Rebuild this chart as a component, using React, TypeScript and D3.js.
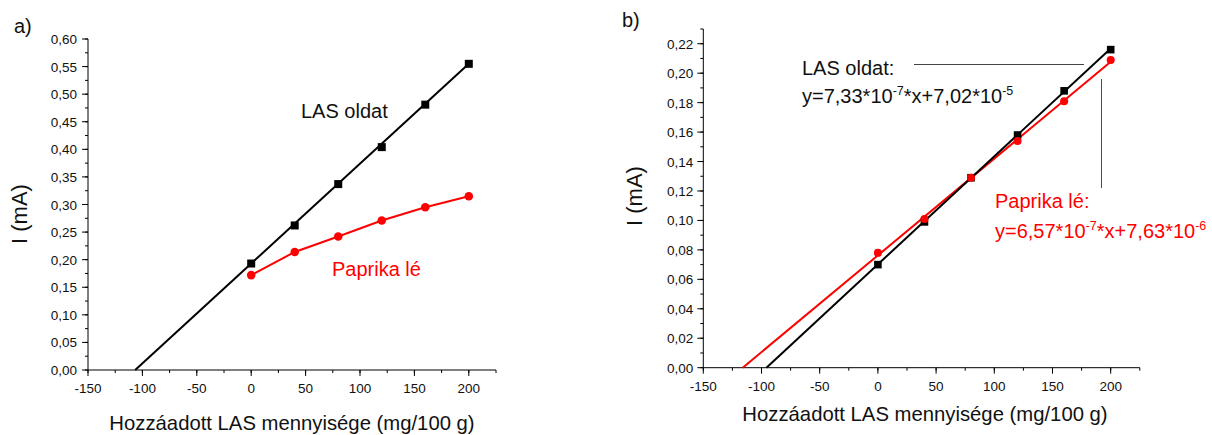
import React from "react";
import * as d3 from "d3";

// ---- Data ----
const xs = [0, 40, 80, 120, 160, 200];
const aLAS = [0.193, 0.262, 0.337, 0.404, 0.481, 0.555];
const aPaprika = [0.172, 0.214, 0.242, 0.271, 0.295, 0.315];
const aFitLAS = { slope: 0.00181, intercept: 0.193 };

const bLAS = [0.07, 0.099, 0.129, 0.158, 0.188, 0.216];
const bPaprika = [0.078, 0.101, 0.129, 0.154, 0.181, 0.209];
const bFitLAS = { slope: 0.000733, intercept: 0.0702 };
const bFitPaprika = { slope: 0.000657, intercept: 0.0763 };

const xTicks = [-150, -100, -50, 0, 50, 100, 150, 200];
const aYTicks = [0, 0.05, 0.1, 0.15, 0.2, 0.25, 0.3, 0.35, 0.4, 0.45, 0.5, 0.55, 0.6];
const bYTicks = [0, 0.02, 0.04, 0.06, 0.08, 0.1, 0.12, 0.14, 0.16, 0.18, 0.2, 0.22];

const xTitle = "Hozzáadott LAS mennyisége (mg/100 g)";
const yTitle = "I (mA)";
const FONT = "'Liberation Sans', Arial, sans-serif";

const fmtY = (v: number) => v.toFixed(2).replace(".", ",");

type Fit = { slope: number; intercept: number };

function Axes({ x, y, yTicks, yMinorStep, yMax, tickFont, labelGap }: any) {
  const x0 = x.range()[0];
  const x1 = x.range()[1];
  const y0 = y.range()[0];
  const y1 = y.range()[1];
  const xMinor = d3.range(-150, 226, 25);
  const yMinor = d3.range(0, yMax + 1e-9, yMinorStep);
  return (
    <g>
      <line x1={x0} x2={x0} y1={y0} y2={y1} stroke="#000" strokeWidth={1} />
      <line x1={x0} x2={x1} y1={y0} y2={y0} stroke="#000" strokeWidth={1} />
      {yMinor.map((v: number, i: number) => (
        <line key={"ym" + i} x1={x0 - 3} x2={x0} y1={y(v)} y2={y(v)} stroke="#000" />
      ))}
      {yTicks.map((v: number, i: number) => (
        <g key={"y" + i}>
          <line x1={x0 - 6} x2={x0} y1={y(v)} y2={y(v)} stroke="#000" />
          <text x={x0 - labelGap} y={y(v) + 5} textAnchor="end" fontSize={tickFont} fontFamily={FONT} fill="#111">
            {fmtY(v)}
          </text>
        </g>
      ))}
      {xMinor.map((v: number, i: number) => (
        <line key={"xm" + i} x1={x(v)} x2={x(v)} y1={y0} y2={y0 + 3} stroke="#000" />
      ))}
      {xTicks.map((v, i) => (
        <g key={"x" + i}>
          <line x1={x(v)} x2={x(v)} y1={y0} y2={y0 + 6} stroke="#000" />
          <text x={x(v)} y={y0 + 23} textAnchor="middle" fontSize={tickFont} fontFamily={FONT} fill="#111">
            {v}
          </text>
        </g>
      ))}
    </g>
  );
}

function fitPath(x: any, y: any, f: Fit) {
  const xStart = -f.intercept / f.slope;
  const line = d3.line<number>().x((d) => x(d)).y((d) => y(f.slope * d + f.intercept));
  return line([xStart, 200]) as string;
}

export default function App() {
  // Panel a
  const ax = d3.scaleLinear().domain([-150, 225]).range([88, 496]);
  const ay = d3.scaleLinear().domain([0, 0.6]).range([370, 39]);
  const aLine = d3
    .line<number>()
    .x((_, i) => ax(xs[i]))
    .y((d) => ay(d));

  // Panel b
  const bx = d3.scaleLinear().domain([-150, 225]).range([703.3, 1139.8]);
  const by = d3.scaleLinear().domain([0, 0.23]).range([367.7, 29]);

  return (
    <svg width={1212} height={435} style={{ position: "absolute", left: 0, top: 0, background: "#fff" }}>
      <rect width={1212} height={435} fill="#fff" />
      {/* ---------- Panel a ---------- */}
      <text x={14} y={33} fontSize={20} fontFamily={FONT} fill="#111">a)</text>
      <Axes x={ax} y={ay} yTicks={aYTicks} yMinorStep={0.025} yMax={0.6} tickFont={13.5} labelGap={11} />
      <text
        transform={`translate(27,214) rotate(-90)`}
        textAnchor="middle"
        fontSize={22}
        fontFamily={FONT}
        fill="#111"
      >
        {yTitle}
      </text>
      <text x={292} y={430} textAnchor="middle" fontSize={20.3} fontFamily={FONT} fill="#111">
        {xTitle}
      </text>
      <path d={fitPath(ax, ay, aFitLAS)} fill="none" stroke="#000" strokeWidth={2} />
      {aLAS.map((v, i) => (
        <rect key={"as" + i} x={ax(xs[i]) - 4} y={ay(v) - 4} width={8} height={8} fill="#000" />
      ))}
      <path d={aLine(aPaprika) as string} fill="none" stroke="#ff0000" strokeWidth={2} />
      {aPaprika.map((v, i) => (
        <circle key={"ac" + i} cx={ax(xs[i])} cy={ay(v)} r={4.3} fill="#ff0000" />
      ))}
      <text x={301} y={118} fontSize={20} fontFamily={FONT} fill="#111">LAS oldat</text>
      <text x={332} y={276} fontSize={20} fontFamily={FONT} fill="#ff0000">Paprika lé</text>

      {/* ---------- Panel b ---------- */}
      <text x={622} y={27} fontSize={20} fontFamily={FONT} fill="#111">b)</text>
      <Axes x={bx} y={by} yTicks={bYTicks} yMinorStep={0.01} yMax={0.23} tickFont={13.5} labelGap={10} />
      <text
        transform={`translate(642,196) rotate(-90)`}
        textAnchor="middle"
        fontSize={22}
        fontFamily={FONT}
        fill="#111"
      >
        {yTitle}
      </text>
      <text x={925} y={421} textAnchor="middle" fontSize={20.3} fontFamily={FONT} fill="#111">
        {xTitle}
      </text>
      <path d={fitPath(bx, by, bFitPaprika)} fill="none" stroke="#ff0000" strokeWidth={2} />
      <path d={fitPath(bx, by, bFitLAS)} fill="none" stroke="#000" strokeWidth={2} />
      {bLAS.map((v, i) => (
        <rect key={"bs" + i} x={bx(xs[i]) - 3.8} y={by(v) - 3.8} width={7.6} height={7.6} fill="#000" />
      ))}
      {bPaprika.map((v, i) => (
        <circle key={"bc" + i} cx={bx(xs[i])} cy={by(v)} r={4} fill="#ff0000" />
      ))}
      <line x1={914} x2={1084} y1={64.5} y2={64.5} stroke="#444" strokeWidth={1} />
      <text x={802} y={75} fontSize={20} fontFamily={FONT} fill="#111">LAS oldat:</text>
      <text x={802} y={103} fontSize={20} fontFamily={FONT} fill="#111">
        y=7,33*10<tspan dy={-8} fontSize={12.5}>-7</tspan>
        <tspan dy={8}>*x+7,02*10</tspan>
        <tspan dy={-8} fontSize={12.5}>-5</tspan>
      </text>
      <line x1={1101.5} x2={1101.5} y1={79} y2={188} stroke="#ff0000" strokeWidth={1} />
      <text x={995} y={208} fontSize={20} fontFamily={FONT} fill="#ff0000">Paprika lé:</text>
      <text x={995} y={238} fontSize={20} fontFamily={FONT} fill="#ff0000">
        y=6,57*10<tspan dy={-8} fontSize={12.5}>-7</tspan>
        <tspan dy={8}>*x+7,63*10</tspan>
        <tspan dy={-8} fontSize={12.5}>-6</tspan>
      </text>
    </svg>
  );
}
